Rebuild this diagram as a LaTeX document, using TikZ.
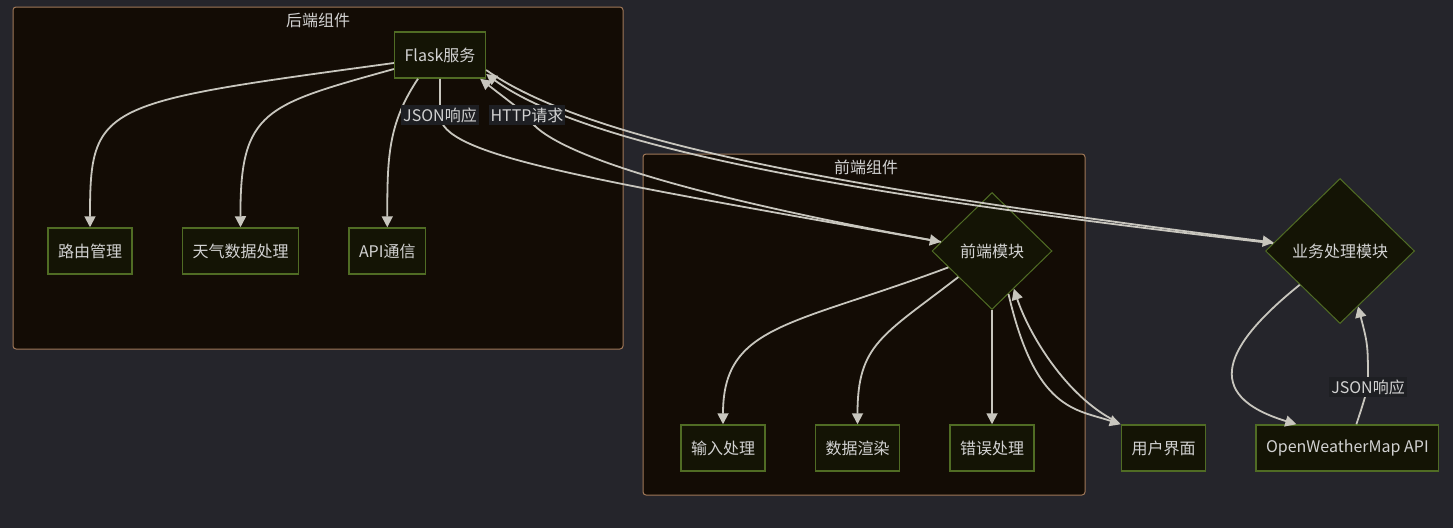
\documentclass[tikz,border=0pt]{standalone}
\usepackage{fontspec}
\setmainfont{Noto Sans CJK SC}
\usetikzlibrary{positioning,shapes.geometric,arrows.meta}

\definecolor{canvas}{RGB}{37,37,43}
\definecolor{clfill}{RGB}{19,12,5}
\definecolor{cldraw}{RGB}{160,120,88}
\definecolor{ndfill}{RGB}{20,20,5}
\definecolor{nddraw}{RGB}{80,108,36}
\definecolor{txt}{RGB}{210,210,210}
\definecolor{link}{RGB}{200,198,190}
\definecolor{lblfill}{RGB}{30,31,35}

\tikzset{
  box/.style={draw=nddraw, fill=ndfill, line width=1.5pt, text=txt, minimum height=46pt, inner xsep=10pt, font=\fontsize{16}{18}\selectfont},
  decision/.style={diamond, draw=nddraw, fill=ndfill, line width=1pt, text=txt, inner sep=0pt, font=\fontsize{16}{18}\selectfont},
  cluster/.style={draw=cldraw, fill=clfill, line width=1pt, rounded corners=3pt},
  flow/.style={draw=link, line width=1.8pt, -{Triangle[length=11pt,width=11pt]}},
  lbl/.style={fill=lblfill, text=txt, inner xsep=2pt, inner ysep=3pt, font=\fontsize{16}{18}\selectfont},
  title/.style={text=txt, font=\fontsize{16}{18}\selectfont}
}

\begin{document}
\begin{tikzpicture}[x=1pt,y=-1pt]
            \fill[canvas] (0,0) rectangle (1453,528);
            \useasboundingbox (0,0) rectangle (1453,528);
            \draw[cluster] (13,7) rectangle (623,349);
            \node[title] (backtitle) at (318,20) {后端组件};
            \draw[cluster] (643,154) rectangle (1085,495);
            \node[title] (fronttitle) at (866,167) {前端组件};

            \node[box] (flask) at (440,55) {Flask服务};
            \node[box] (route) at (90,251) {路由管理};
            \node[box, right=49pt of route] (weather) {天气数据处理};
            \node[box, right=49pt of weather] (apicomm) {API通信};
            \node[decision, minimum width=120pt, minimum height=117pt] (front) at (992,251) {前端模块};
            \node[box] (error) at (992,448) {错误处理};
            \node[box, left=49pt of error] (render) {数据渲染};
            \node[box, left=49pt of render] (input) {输入处理};
            \node[box, right=86pt of error] (ui) {用户界面};
            \node[box, right=49pt of ui] (owm) {OpenWeatherMap API};
            \node[decision, minimum width=149pt, minimum height=145pt] (biz) at (1340,251) {业务处理模块};

            \coordinate (jsonA) at (440,115);
            \coordinate (httpA) at (527,115);
            \coordinate (jsonB) at (1368,387);

            \draw[flow] ([yshift=-8pt]flask.west) .. controls (100,103) and (90,103) .. (route.north);
            \draw[flow] ([yshift=-14pt]flask.west) .. controls (265,105) and (240,110) .. (weather.north);
            \draw[flow] ([xshift=-22pt]flask.south) .. controls +(-30,45) and +(0,-70) .. (apicomm.north);
            \draw[flow] (flask.south) -- (jsonA) .. controls (440,155) and (580,178) .. (front);
            \draw[flow] (front) .. controls (680,195) and (540,150) .. (httpA) -- ([xshift=-6pt]flask.south east);
            \draw[flow] ([yshift=-15pt]flask.east) .. controls (600,150) and (900,195) .. (biz);
            \draw[flow] (biz) .. controls (905,201) and (596,154) .. ([yshift=-19pt]flask.east);
            % frontend parts
            \draw[flow] (front) .. controls +(-200,75) and +(0,-100) .. (input.north);
            \draw[flow] (front) .. controls +(-110,85) and +(0,-80) .. (render.north);
            \draw[flow] (front) -- (error);
            \draw[flow] (front.-69) .. controls +(27,117) and +(-45,-15) .. (ui.north west);
            \draw[flow] ([xshift=-5pt,yshift=3pt]ui.north west) .. controls +(-50,-25) and +(15,45) .. (front.-60);
            \draw[flow] (biz.220) .. controls (1225,345) and (1200,395) .. ([xshift=-51pt]owm.north);
            \draw[flow] ([xshift=9pt]owm.north) .. controls +(5,-15) .. (jsonB) .. controls +(0,-42) .. (biz.-72);

            \node[lbl] (jsonAlbl) at (jsonA) {JSON响应};
            \node[lbl] (httpAlbl) at (httpA) {HTTP请求};
            \node[lbl] (jsonBlbl) at (jsonB) {JSON响应};
\end{tikzpicture}
\end{document}
